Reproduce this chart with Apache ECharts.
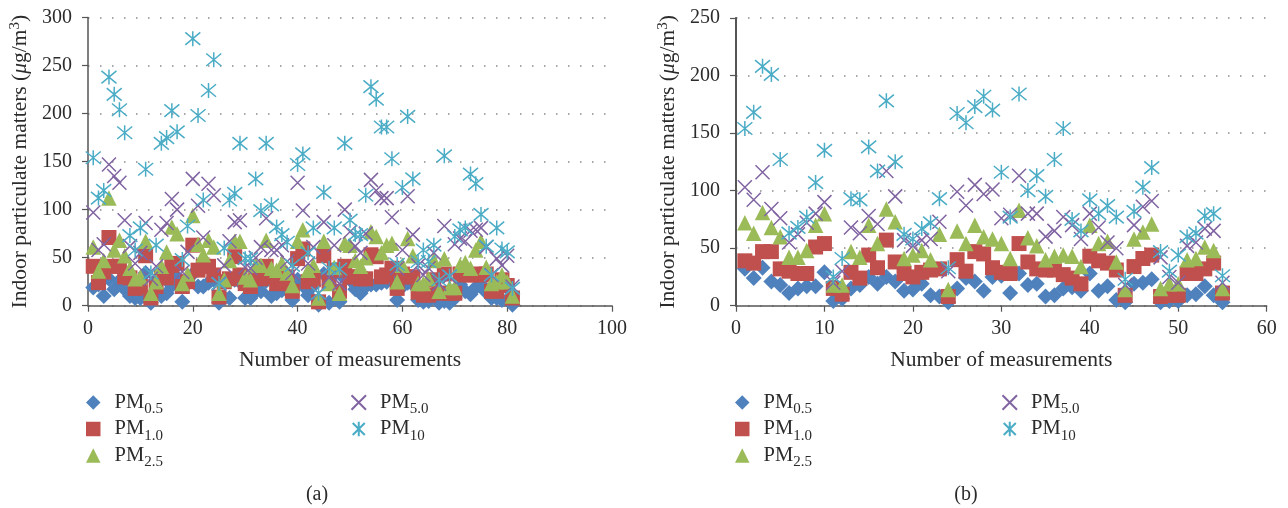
<!DOCTYPE html>
<html><head><meta charset="utf-8">
<style>html,body{margin:0;padding:0;background:#fff}#c{width:1288px;height:508px}</style>
<script src="https://cdn.jsdelivr.net/npm/echarts@6/dist/echarts.min.js"></script>
</head><body><div id="c"></div>
<script>
const seriesNames = ['PM0.5','PM1.0','PM2.5','PM5.0','PM10'];
const yTitle = '{t|Indoor particulate matters (}{i|\u03bc}{t|g/m}{s|3}{t|)}';
const xTitle = 'Number of measurements';

const a05 = [19,22,10,28,17,26,17,10,8,8,34,3,27,10,13,21,30,4,28,33,20,20,24,27,3,8,8,27,25,8,8,15,15,26,10,13,16,16,6,27,21,11,21,1,33,3,33,4,28,27,17,13,20,22,22,24,25,30,6,20,24,22,6,4,5,25,3,5,3,8,22,15,12,19,22,14,8,8,6,22,1];
const a10 = [41,24,35,71,41,41,30,29,18,20,52,8,20,30,29,42,44,20,25,63,37,41,41,32,9,25,28,51,32,23,20,29,28,41,30,23,23,30,15,49,59,25,27,4,52,25,37,15,41,30,30,28,28,53,51,30,32,39,18,33,30,30,14,11,11,27,13,33,13,13,33,32,32,33,32,33,15,15,27,21,8];
const a25 = [61,36,47,112,58,68,52,39,28,30,67,13,25,41,56,82,75,23,33,94,64,53,68,61,13,27,47,67,67,30,27,42,42,68,39,37,44,34,21,67,79,37,42,8,67,23,40,13,65,63,47,41,50,77,72,55,63,65,25,42,70,52,23,23,28,47,15,49,19,19,42,45,39,58,67,40,23,25,32,25,10];
const a50 = [97,58,64,147,135,128,89,62,44,55,86,28,41,79,86,111,100,35,56,132,104,71,127,115,23,42,67,87,89,40,39,50,61,91,58,58,63,46,34,128,99,44,61,13,87,29,63,23,100,77,62,55,75,131,120,112,112,92,39,58,114,74,42,32,39,55,23,83,30,64,70,67,78,79,81,61,32,49,42,52,20];
const a100 = [154,112,120,238,220,204,180,73,58,81,142,34,63,169,175,203,181,48,83,278,198,110,224,256,23,60,110,117,169,49,49,132,99,169,105,82,74,66,42,147,158,55,81,13,118,39,81,38,169,89,74,74,115,228,215,186,186,153,43,123,197,132,46,58,46,63,27,156,31,72,79,81,137,127,95,62,32,81,59,56,18];

const b05 = [32,24,33,21,18,11,15,17,17,29,4,6,15,18,25,19,25,21,13,14,19,9,8,3,15,24,21,13,25,26,11,28,18,19,8,9,15,16,13,28,13,17,5,3,19,20,23,3,4,4,9,10,17,9,3];
const b10 = [39,37,47,47,32,30,28,28,51,54,15,10,29,24,44,33,57,38,28,25,29,31,32,8,40,30,47,45,33,29,28,54,38,32,31,31,27,24,19,43,39,37,31,9,34,41,44,8,9,9,28,28,32,37,11];
const b25 = [72,63,81,68,60,42,42,48,70,80,18,18,47,42,70,54,84,73,41,44,48,40,62,14,65,54,70,60,58,54,41,83,59,52,40,43,44,43,34,70,54,56,38,14,58,64,71,15,19,19,40,41,51,48,15];
const b50 = [103,92,116,84,76,55,62,72,80,90,20,30,68,63,78,71,117,95,57,52,57,58,73,30,99,87,105,97,101,76,79,113,80,80,60,65,77,70,58,80,68,55,50,18,70,86,91,42,25,20,52,55,67,65,20];
const b100 = [154,168,208,201,127,63,68,77,107,135,25,41,93,92,138,117,178,125,62,58,67,72,93,33,167,159,173,182,170,116,77,184,100,113,95,127,154,75,65,92,80,87,77,23,82,103,120,47,30,44,60,63,78,80,26];

const xIcon = 'path://M0 0L10 10M10 0L0 10';
const starIcon = 'path://M0 1L10 11M10 1L0 11M5 0L5 12';
const styles = [
  {symbol:'diamond', size:16, color:'#4F81BD'},
  {symbol:'rect', size:15, color:'#C0504D'},
  {symbol:'triangle', size:15.5, color:'#9BBB59'},
  {symbol:xIcon, size:14, stroke:'#8064A2'},
  {symbol:starIcon, size:15, stroke:'#4BACC6'}
];
const fontFam = '"Liberation Serif", serif';
const textCol = '#2b2b2b';
const rich = {
  n:{fontFamily:fontFam,fontSize:20.5,color:textCol},
  u:{fontFamily:fontFam,fontSize:15,color:textCol,verticalAlign:'top',padding:[10,0,0,0]}
};
function legendFmt(name){
  return '{n|PM}{u|'+name.slice(2)+'}';
}
function mkSeries(vals, idx, ax){
  const s = styles[idx];
  return {
    name: seriesNames[idx], type:'scatter', xAxisIndex:ax, yAxisIndex:ax,
    symbol:s.symbol, symbolSize:s.size, silent:true,
    itemStyle: s.stroke ? {color:'none',borderColor:s.stroke,borderWidth:1.5,opacity:1} : {color:s.color,opacity:1},
    data: vals.map((v,i)=>[i+1,v])
  };
}
function mkLegend(names, left, top){
  return {
    show:true, orient:'vertical', left, top, padding:0, itemWidth:14.5, itemHeight:14.5, itemGap:1.5, selectedMode:false,
    data:names, formatter:legendFmt,
    textStyle:{rich, fontFamily:fontFam, fontSize:20, color:textCol, padding:[0,0,0,9], lineHeight:21}
  };
}
function xAxisOf(gi,max,interval){
  return {type:'value',gridIndex:gi,min:0,max,interval,name:xTitle,nameLocation:'middle',nameGap:44,
    nameTextStyle:{fontFamily:fontFam,fontSize:21.5,color:textCol},
    axisLine:{show:true,onZero:false,lineStyle:{color:'#555',width:1.5}},
    axisTick:{show:true,inside:false,length:6,lineStyle:{color:'#555',width:1.2}},
    axisLabel:{margin:13,fontFamily:fontFam,fontSize:20,color:textCol,hideOverlap:false,showMinLabel:true,showMaxLabel:true},
    splitLine:{show:false}};
}
function yAxisOf(gi,max,w,gap){
  return {type:'value',gridIndex:gi,min:0,max,interval:50,name:yTitle,nameLocation:'middle',nameGap:gap,nameRotate:90,
    nameTextStyle:{fontFamily:fontFam,fontSize:21.5,color:textCol,rich:{
      t:{fontFamily:fontFam,fontSize:21.5,color:textCol},
      i:{fontFamily:fontFam,fontSize:21.5,fontStyle:'italic',color:textCol},
      s:{fontFamily:fontFam,fontSize:15,color:textCol,verticalAlign:'bottom',padding:[0,0,10,0]}
    }},
    axisLine:{show:true,onZero:false,lineStyle:{color:'#555',width:w}},
    axisTick:{show:true,length:6,lineStyle:{color:'#555',width:1.2}},
    axisLabel:{margin:16,fontFamily:fontFam,fontSize:20,color:textCol,showMinLabel:true,showMaxLabel:true},
    splitLine:{show:true,lineStyle:{color:'#8a8a8a',width:1.5,type:[1.5,10.5]}}};
}
const option = {
  animation:false, backgroundColor:'#fff',
  grid:[
    {left:88,top:17.5,width:524,height:288.2},
    {left:736,top:18,width:530.7,height:287.7}
  ],
  xAxis:[xAxisOf(0,100,20),xAxisOf(1,60,10)],
  yAxis:[yAxisOf(0,300,1.5,55),yAxisOf(1,250,2,55)],
  legend:[
    mkLegend(seriesNames.slice(0,3),86,392),
    mkLegend(seriesNames.slice(3),349,392),
    mkLegend(seriesNames.slice(0,3),735,392),
    mkLegend(seriesNames.slice(3),1000,392)
  ],
  title:[
    {text:'(a)',left:312,top:490,textAlign:'center',textVerticalAlign:'middle',textStyle:{fontFamily:fontFam,fontSize:20,fontWeight:'normal',color:textCol}},
    {text:'(b)',left:961,top:490,textAlign:'center',textVerticalAlign:'middle',textStyle:{fontFamily:fontFam,fontSize:20,fontWeight:'normal',color:textCol}}
  ],
  series:[
    ...[a05,a10,a25,a50,a100].map((v,i)=>mkSeries(v,i,0)),
    ...[b05,b10,b25,b50,b100].map((v,i)=>mkSeries(v,i,1))
  ]
};
echarts.init(document.getElementById('c'),null,{renderer:'canvas'}).setOption(option);
</script></body></html>
